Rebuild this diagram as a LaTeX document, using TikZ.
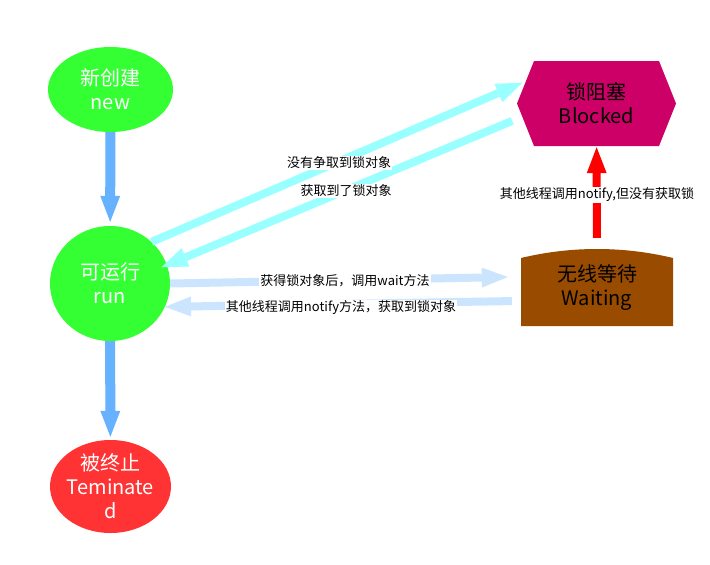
\documentclass[tikz,border=0pt]{standalone}
\usepackage{fontspec}
\setmainfont{Noto Sans CJK SC}
\usetikzlibrary{shapes.geometric,arrows.meta}
\definecolor{stategreen}{HTML}{33FF33}
\definecolor{endred}{HTML}{FF3333}
\definecolor{blockpink}{HTML}{CC0066}
\definecolor{waitbrown}{HTML}{994C00}
\definecolor{flowblue}{HTML}{66B2FF}
\definecolor{lockcyan}{HTML}{99FFFF}
\definecolor{waitblue}{HTML}{CCE5FF}
\newcommand\statefont{\fontsize{20}{24}\selectfont}
\newcommand\tagfont{\fontsize{13}{15}\selectfont}

\begin{document}
\begin{tikzpicture}
		[x=1pt, y=-1pt,
		state/.style ={ellipse, fill=stategreen, inner sep=0pt, label={[text=white, align=center, font=\statefont]center:#1}},
		ended/.style ={state=#1, fill=endred},
		blockbox/.style ={rectangle, inner sep=0pt, minimum width=159pt, minimum height=85pt, align=center, font=\statefont,
		path picture={\fill[blockpink] ([xshift=17pt]path picture bounding box.north west) -- ([xshift=-17pt]path picture bounding box.north east) -- (path picture bounding box.east) -- ([xshift=-17pt]path picture bounding box.south east) -- ([xshift=17pt]path picture bounding box.south west) -- (path picture bounding box.west) -- cycle;}},
		waitbox/.style ={rectangle, inner sep=0pt, minimum width=152pt, minimum height=77pt, align=center, font=\statefont,
		path picture={\fill[waitbrown] (path picture bounding box.south west) -- ([yshift=-9pt]path picture bounding box.north west) .. controls ([xshift=50pt,yshift=3pt]path picture bounding box.north west) and ([xshift=-50pt,yshift=3pt]path picture bounding box.north east) .. ([yshift=-9pt]path picture bounding box.north east) -- (path picture bounding box.south east) -- cycle;}},
		flow/.style ={draw=flowblue, line width=10pt, -{Triangle[width=20pt,length=26pt,line width=0pt]}},
		lockline/.style ={draw=lockcyan, line width=8pt, -{Triangle[width=20pt,length=26pt,line width=0pt]}},
		waitline/.style ={draw=waitblue, line width=8pt, -{Triangle[width=20pt,length=26pt,line width=0pt]}},
		notifyline/.style ={draw=red, line width=8pt, -{Triangle[width=20pt,length=26pt,line width=0pt]}},
		tag/.style ={fill=white, inner sep=1pt, font=\tagfont},
		]

		\fill[white] (0,0) rectangle (710,565);
		\useasboundingbox (0,0) rectangle (710,565);

		\draw (110.5,89.5) node[state={新创建\\new}, minimum width=125pt, minimum height=85pt] (new) {};
		\draw (110,283.5) node[state={可运行\\run}, minimum width=120pt, minimum height=115pt] (run) {};
		\draw (110.5,486.5) node[ended={被终止\\Teminate\\d}, minimum width=121pt, minimum height=93pt] (terminated) {};

		\draw (596.5,103.5) node[blockbox] (blocked) {锁阻塞\\Blocked};
		\draw (597,287.5) node[waitbox] (waiting) {无线等待\\Waiting};

		\path
		(new) edge[flow, shorten >=4pt] (run)
		(run) edge[flow, shorten >=3pt] (terminated)
		(run.45) edge[lockline, shorten >=-6pt] (blocked.167)
		(blocked.191) edge[lockline, shorten <=5pt, shorten >=-6pt] (run.18)
		(run.east) edge[waitline, shorten >=13pt] (waiting.172)
		(waiting.190) edge[waitline, shorten <=9pt] (run.-23)
		(waiting) edge[notifyline, shorten <=11pt, shorten >=1pt] (blocked);

		\draw (339,163) node[tag] (nolock) {没有争取到锁对象};
		\draw (346,191) node[tag] (gotlock) {获取到了锁对象};
		\draw (345,281) node[tag] (callwait) {获得锁对象后，调用wait方法};
		\draw (341,308) node[tag] (notified) {其他线程调用notify方法，获取到锁对象};
		\draw (597,195) node[tag] (nolocknotify) {其他线程调用notify,但没有获取锁};
	\end{tikzpicture}
\end{document}
